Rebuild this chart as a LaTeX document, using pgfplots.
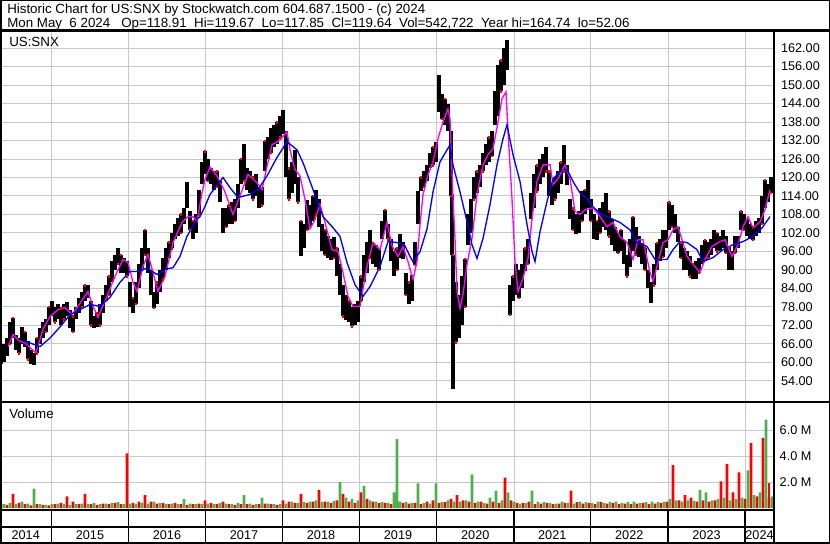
\documentclass[border=0pt]{standalone}
\usepackage{fontspec}
\setmainfont{Liberation Sans}
\usepackage{pgfplots}
\usepackage{pgfplotstable}
\pgfplotsset{compat=1.18}
\definecolor{gridgray}{RGB}{200,200,200}
\definecolor{volgreen}{RGB}{76,176,76}
\definecolor{volred}{RGB}{255,0,0}
\definecolor{maM}{RGB}{255,0,255}
\definecolor{maB}{RGB}{0,0,255}
\pgfplotstableread{
x lo hi
1 59.5 64
4 60 66
7 62 68
10 66 73
13 68 74.5
16 64 69
19 63 68
22 66 71.5
25 65 70
28 61 67
31 59.5 64
34 59.3 63
37 63 68
40 66 71
43 68 73
46 70 74
49 72 78
52 75 80
55 73 78
58 74 79
61 72 77.5
64 74 79
67 75 79.5
70 71 77
73 70 75
76 74 78
79 76 81
82 78 83
85 80 85
88 81 85.2
91 72 80
94 71.3 75
97 71.5 76
100 72 79
103 76 82
106 80 85
109 82 88
112 86 93
115 90 95
118 92 97
121 89 95
124 89 94
127 88 93
130 78 86
133 76 81
136 79 86
139 84 92
142 90 97
145 95 103
148 89 97
151 82 90
154 77.8 83
157 79 86
160 83 90
163 87 94
166 90 97
169 94 99
172 97 102
175 100 105
178 101 107
181 102 108
184 105 110
187 110 118.5
190 103 109
193 100 106
196 102 108
199 108 116
202 118 125
205 121 128.5
208 119 126
211 118 123
214 116 122
217 117 122
220 112 119
223 102 110
226 104 110
229 105 111
232 105 112
235 106 113
238 110 118
241 118 126
244 119 131
247 116 123
250 115 122
253 113 120
256 114 121
259 110 117
262 111 117
265 122 132
268 126 133
271 128 136
274 130 137
277 131 138
280 133 140
283 134 142
286 120 135
289 113 123
292 115 125
295 118 129
298 112 120
301 94.4 106
304 97 105
307 103 112.8
310 104 111
313 106 114
316 108 116
319 104 113
322 96 105
325 95 103
328 94 101
331 93.3 100
334 94 100.8
337 88 97
340 82 92
343 75 85
346 73.9 82
349 73 80
352 71.7 78
355 72 79
358 73 80
361 80 88
364 86 95
367 89 99
370 94 103
373 92 98.9
376 91 98
379 90 97
382 100 106
385 103 109.5
388 100 105
391 93 100
394 88 96
397 90 97
400 94 101.5
403 93.6 99
406 82 89
409 78.8 86
412 80 88.5
415 91.7 99
418 104.9 115.5
421 115.5 120
424 117 122
427 119 124
430 123 128
433 124 130
436 125 131.6
439 141.3 153.2
442 139 147
445 137 145.5
448 135 144
451 114 135
452 95 114.5
453 51.5 95
456 66.5 86
459 68 82
462 72 88
465 78 93.6
468 98 108
471 102 113
474 113 120
477 115 122
480 117 124
483 122 128
486 124 131
489 125 133
492 127 135
495 137 148
498 140 156.6
501 148 158
504 150 162
507 155 164.6
510 75.5 85
513 80 88
516 82 91.8
519 81 90
522 84 92
525 89.5 97
528 92 100
531 106.6 115
534 110 121
537 115.5 124
540 118 126
543 120 127.5
546 122 130
549 114 122
552 111 118
555 113 120
558 115 122
561 118 125
564 122 130.6
567 117.7 124
570 106.6 113
573 103 110
576 101.5 108
579 102 109
582 106 115.5
585 108 116
588 110 119.3
591 106 113
594 100 108
597 99.8 106
600 102 110
603 104 112
606 103 115
609 101 109
612 98 106.4
615 96 104
618 95.6 102
621 96 103
624 92 99.8
627 88 95
630 91 100
633 96 107.3
636 95 104
639 94.3 101
642 92 98.9
645 90 97
648 84 90
651 79.4 86
654 85 92
657 90 98.9
660 93 100
663 94.3 103
666 97 103
669 103 112
672 104 111
675 102 108
678 99 104
681 94 99
684 90 97
687 90 96
690 88 94.4
693 86.9 92
696 87 93
699 89 94
702 92 98
705 93 99.8
708 94 99
711 95 100
714 97 103
717 96 102
720 96 101
723 97 103
726 95.6 101
729 90 97.6
732 90 96
735 95.6 101
738 97 101
741 103 109
744 103 108
747 101 106.4
750 100 105
753 99.8 104
756 101 106
759 102 107
762 105 114
765 110 119.3
768 112 118
771 115 120
}\pricetable
\begin{document}
\begin{tikzpicture}[x=0.75pt,y=0.75pt]
\path[use as bounding box] (0,0) rectangle (830,543);
\fill[white] (0,0) rectangle (830,543);

% ---------------- price panel ----------------
\begin{axis}[
  at={(0pt,106.125pt)}, anchor=south west, scale only axis,
  width=581.25pt, height=278pt,
  xmin=0, xmax=775, ymin=47.3, ymax=167.6,
  axis line style={draw=none},
  xtick={51.5,128.5,205.5,282.5,359.5,436.5,514,590.5,668,745}, xticklabels={},
  ytick={54,60,...,162},
  yticklabel pos=right,
  yticklabel style={anchor=west, font=\fontsize{9.5}{11}\selectfont, xshift=1pt},
  /pgf/number format/fixed, /pgf/number format/fixed zerofill,
  /pgf/number format/precision=2, /pgf/number format/assume math mode=true,
  major tick length=0pt,
  grid=major, grid style={gridgray, line width=0.75pt},
]
\addplot[black, line width=2.4pt, quiver={u=0, v=\thisrow{hi}-\thisrow{lo}}] table[x=x, y=lo] {\pricetable};
\addplot[only marks, mark=square*, mark size=0.55pt, volred, each nth point=3] table[x=x, y=lo] {\pricetable};
\addplot[only marks, mark=square*, mark size=0.55pt, volred, each nth point=4] table[x=x, y=hi] {\pricetable};
% shorter moving average (magenta)
\addplot[maM, line width=1pt] coordinates {
(8,65.1) (13,69) (20,66.8) (25,66.3) (32,64.2) (36,63.1) (43,70.7) (50,74.9) (58,77.1) (65,77.8)
(72,75.5) (78,78.2) (88,83) (93,78.2) (98,74.6) (107,81.5) (115,87.9) (123,93.4) (128,92.4) (133,86)
(137,83) (143,91.1) (148,95) (153,89.2) (158,83) (165,87.9) (173,98.9) (182,105.4) (188,107.3) (193,107.3)
(197,105.7) (202,115) (205,119.3) (210,123.4) (217,120.5) (225,115.3) (233,108) (240,114) (248,121) (257,118.3)
(262,116) (267,123.6) (272,130.6) (280,132.2) (287,134.8) (290,129) (295,122.6) (300,120.5) (305,112.9) (310,103.3)
(315,106.4) (320,111.3) (325,105.4) (332,96.6) (338,96) (343,89.1) (348,81.4) (353,78.2) (360,78.2) (367,91.1)
(373,98.9) (380,96.6) (387,105.4) (392,97.8) (398,94.4) (403,97.5) (408,92.7) (413,86.9) (417,92.7) (420,104.7)
(423,114.4) (428,120.9) (433,125.1) (438,132.6) (443,138) (448,142.3) (450,139) (453,113.1) (455,100.2) (457,83)
(460,77.5) (463,82.1) (467,91.8) (472,100.2) (477,114.4) (483,124.1) (488,127.4) (493,129.3) (498,138) (502,145.6)
(506,147.8) (508,134.9) (512,113.1) (515,92.7) (518,83) (523,87.3) (528,93.7) (532,106.7) (537,118.7) (543,124.1)
(550,124.1) (553,117.7) (558,119.6) (565,124.1) (570,119.6) (575,109) (580,108) (585,109.5) (593,110.2) (600,107.3)
(607,104) (613,105.4) (620,100.8) (627,98.9) (633,93.4) (638,99.8) (643,99.8) (650,89.2) (653,86.3) (658,92.4)
(663,98.9) (668,99.8) (673,103) (678,104) (682,99.8) (687,94.4) (693,91.8) (700,89.2) (705,93.4) (712,97.6)
(720,99.2) (725,99.8) (732,94.4) (738,98.2) (743,104) (748,107.3) (753,103.6) (760,105.6) (765,109.5) (770,116)
};
% longer moving average (blue)
\addplot[maB, line width=1pt] coordinates {
(23,66.8) (30,66.3) (40,65.1) (50,67.9) (60,71.5) (70,75.5) (80,77.1) (90,78.8) (100,78.2) (110,81.1)
(120,86) (130,89.5) (140,89.5) (147,90.7) (157,88.5) (167,90.4) (173,90.7) (180,94.4) (187,100.9) (192,103.7)
(197,106.4) (200,107.3) (205,110.6) (210,114.5) (220,118.7) (223,120) (230,116.7) (238,113.5) (250,114.5) (258,116.1)
(267,120.5) (277,126.5) (287,131.6) (297,129) (303,124.8) (313,116.1) (323,107.3) (333,103.7) (340,100.9) (347,92.4)
(355,85.2) (363,81.4) (370,84.6) (380,91.1) (388,99.2) (397,98.9) (405,97.8) (410,94.4) (413,92.7) (420,95.9)
(427,103.3) (433,115.3) (440,125.1) (450,130.6) (453,124.1) (460,115.3) (467,105.7) (472,98.2) (477,93.7) (483,100.2)
(490,111.2) (497,124.1) (503,132.6) (507,137.1) (513,127.4) (520,118.7) (527,104.7) (532,96) (535,92.7) (540,102.4)
(547,112.2) (553,119.6) (560,121.9) (567,122.6) (573,118.7) (580,115) (587,113.1) (593,110.5) (600,108.3) (607,107.3)
(620,105.4) (630,103) (637,98.9) (647,97.6) (655,93.4) (667,93.4) (673,96.6) (680,99.2) (687,98.9) (697,96.6)
(703,92.7) (713,94) (723,96.6) (733,98.2) (743,99.2) (753,100.9) (762,103.6) (770,107.3)
};
\end{axis}

% ---------------- volume panel ----------------
\begin{axis}[
  at={(0pt,24.75pt)}, anchor=south west, scale only axis,
  width=581.25pt, height=81pt,
  xmin=0, xmax=775, ymin=-0.15, ymax=8.16,
  axis line style={draw=none},
  xtick={51.5,128.5,205.5,282.5,359.5,436.5,514,590.5,668,745}, xticklabels={},
  ytick={2,4,6}, yticklabels={2.0 M,4.0 M,6.0 M},
  yticklabel pos=right,
  yticklabel style={anchor=west, font=\fontsize{9.5}{11}\selectfont, xshift=0pt},
  major tick length=0pt,
  grid=major, grid style={gridgray, line width=0.75pt},
]
\addplot[ybar, bar width=2.2pt, bar shift=0pt, fill=volred, draw=none] coordinates {
(1,0.35) (7,0.25) (13,1.1) (19,0.4) (25,0.3) (31,0.2) (37,0.3) (43,0.25) (49,0.2) (55,0.3)
(61,0.4) (67,0.9) (73,0.5) (79,0.3) (85,1.1) (91,0.3) (97,0.25) (103,0.35) (109,0.3) (115,0.4)
(121,0.3) (127,4.2) (133,0.4) (139,0.5) (145,1.0) (151,0.5) (157,0.35) (163,0.4) (169,0.3) (175,0.4)
(181,0.3) (187,0.25) (193,0.3) (199,0.35) (205,0.6) (211,0.4) (217,0.3) (223,0.5) (229,0.3) (235,0.25)
(241,0.3) (247,0.3) (253,0.25) (259,0.3) (265,0.35) (271,0.3) (277,0.25) (283,0.6) (289,0.5) (295,0.4)
(301,1.1) (307,0.4) (313,0.5) (319,1.4) (325,0.5) (331,0.4) (337,0.6) (343,1.1) (349,0.5) (355,0.4)
(361,1.2) (367,0.7) (373,0.5) (379,0.4) (385,0.4) (391,0.3) (397,0.5) (403,0.4) (409,0.35) (415,0.4)
(421,0.3) (427,0.5) (433,0.6) (439,0.4) (445,0.45) (451,0.7) (457,1.0) (463,0.6) (469,0.5) (475,0.4)
(481,0.5) (487,0.35) (493,0.5) (499,0.4) (505,2.35) (511,0.6) (517,0.4) (523,0.4) (529,0.5) (535,0.3)
(541,0.35) (547,0.4) (553,0.3) (559,0.35) (565,0.4) (571,1.35) (577,0.45) (583,0.35) (589,0.4) (595,0.3)
(601,0.45) (607,0.35) (613,0.4) (619,0.3) (625,0.35) (631,0.3) (637,0.35) (643,0.4) (649,0.3) (655,0.35)
(661,0.4) (667,0.5) (673,3.3) (679,0.6) (685,1.0) (691,0.8) (697,0.5) (703,0.6) (709,0.5) (715,0.6)
(721,2.05) (727,3.4) (733,1.2) (739,2.75) (745,0.7) (751,5.0) (757,0.9) (763,5.4) (769,0.8)
};
\addplot[ybar, bar width=2.2pt, bar shift=0pt, fill=volgreen, draw=none] coordinates {
(4,0.3) (10,0.4) (16,0.3) (22,0.5) (28,0.35) (34,1.5) (40,0.3) (46,0.25) (52,0.3) (58,0.35)
(64,0.3) (70,0.25) (76,0.3) (82,0.35) (88,0.3) (94,0.4) (100,0.3) (106,0.35) (112,0.4) (118,0.45)
(124,0.3) (130,0.35) (136,0.3) (142,0.4) (148,0.35) (154,0.5) (160,0.4) (166,0.3) (172,0.35) (178,0.3)
(184,0.7) (190,0.35) (196,0.3) (202,0.3) (208,0.35) (214,0.3) (220,0.4) (226,0.35) (232,0.3) (238,0.4)
(244,1.0) (250,0.35) (256,0.3) (262,0.8) (268,0.35) (274,0.3) (280,0.3) (286,0.35) (292,0.5) (298,0.4)
(304,0.45) (310,0.5) (316,0.6) (322,0.45) (328,0.5) (334,0.55) (340,2.0) (346,0.8) (352,0.7) (358,0.6)
(364,1.7) (370,0.6) (376,0.5) (382,0.45) (388,0.4) (394,1.2) (400,0.5) (406,0.45) (412,0.4) (418,1.9)
(424,0.4) (430,0.35) (436,1.9) (442,0.45) (448,0.6) (454,0.5) (460,0.5) (466,0.6) (472,2.6) (478,0.5)
(484,0.4) (490,0.8) (496,1.35) (502,0.6) (508,1.2) (514,0.5) (520,0.35) (526,0.4) (532,1.35) (538,0.5)
(544,0.45) (550,0.4) (556,0.35) (562,0.5) (568,0.4) (574,0.35) (580,0.5) (586,0.45) (592,0.4) (598,0.5)
(604,0.4) (610,0.45) (616,0.5) (622,0.4) (628,0.45) (634,0.5) (640,0.4) (646,0.45) (652,0.5) (658,0.45)
(664,0.5) (670,0.7) (676,0.6) (682,0.5) (688,0.6) (694,0.55) (700,1.4) (706,1.2) (712,0.6) (718,0.7)
(724,0.8) (730,0.6) (736,0.7) (742,0.8) (748,2.9) (754,1.0) (760,1.2) (766,6.8) (772,0.9)
(397,5.3)
};
\addplot[ybar, bar width=2.2pt, bar shift=0pt, fill=volred, draw=none] coordinates {(769,1.9)};
\end{axis}

% ---------------- frame, header and year strip ----------------
\draw[line width=2.25pt] (0,512.2) -- (830,512.2);
\draw[line width=1.5pt] (0,141.5) -- (830,141.5);
\draw[line width=1pt] (0,33) -- (774,33);
\draw[line width=1.75pt] (0,16) -- (774,16);
\draw[line width=2pt] (774,0) -- (774,512.2);
\foreach \xb in {51.5,128.5,205.5,282.5,359.5,436.5,514,590.5,668,745}
  \draw[line width=1pt] (\xb,0) -- (\xb,33);
\draw[line width=2.25pt] (0,0) rectangle (830,543);

\node[anchor=base west, inner sep=0pt, font=\fontsize{10}{12}\selectfont] at (7,529)
  {Historic Chart for US:SNX by Stockwatch.com 604.687.1500 - (c) 2024};
\node[anchor=base west, inner sep=0pt, font=\fontsize{10}{12}\selectfont] at (7,515.5)
  {Mon May\ \ 6 2024\ \ \ Op=118.91\ \ Hi=119.67\ \ Lo=117.85\ \ Cl=119.64\ \ Vol=542,722\ \ Year hi=164.74\ \ lo=52.06};
\node[anchor=west, inner sep=0pt, font=\fontsize{10}{12}\selectfont] at (9,501.5) {US:SNX};
\node[anchor=west, inner sep=0pt, font=\fontsize{10}{12}\selectfont] at (9,129.5) {Volume};

\foreach \xc/\yr in {25.75/2014,90/2015,167/2016,244/2017,321/2018,398/2019,475.25/2020,552.25/2021,629.25/2022,706.5/2023,759.5/2024}
  \node[font=\fontsize{9.5}{11}\selectfont, inner sep=0pt] at (\xc,8) {\yr};
\end{tikzpicture}
\end{document}
